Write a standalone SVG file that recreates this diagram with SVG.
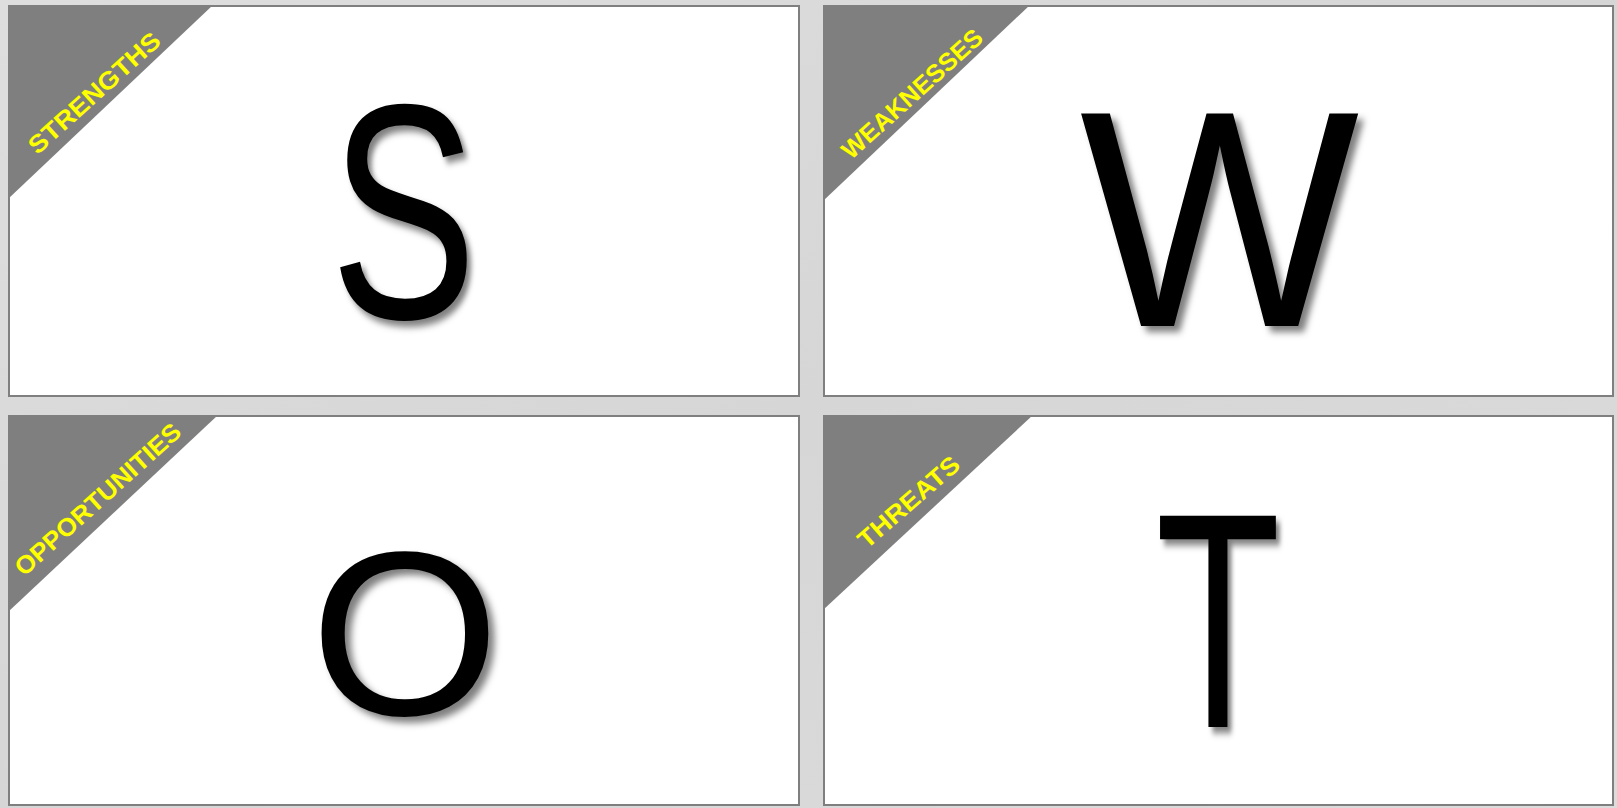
<svg xmlns="http://www.w3.org/2000/svg" width="1617" height="808" viewBox="0 0 1617 808">
  <defs>
    <filter id="shadow" x="-20%" y="-20%" width="150%" height="150%">
      <feDropShadow dx="6" dy="6" stdDeviation="3.5" flood-color="#000" flood-opacity="0.5"/>
    </filter>
    <linearGradient id="bg" x1="0" y1="0" x2="1" y2="1">
      <stop offset="0" stop-color="#dedede"/>
      <stop offset="0.5" stop-color="#d6d6d6"/>
      <stop offset="1" stop-color="#dcdcdc"/>
    </linearGradient>
  </defs>
  <style>
    .panel { fill: #ffffff; stroke: #7f7f7f; stroke-width: 2; }
    .corner { fill: #7f7f7f; }
    .label { font-family: "Liberation Sans", Arial, sans-serif; font-weight: bold; font-size: 25px; fill: #ffff00; text-anchor: middle; }
    .big { font-family: "Liberation Sans", Arial, sans-serif; font-weight: normal; fill: #000000; text-anchor: middle; filter: url(#shadow); }
  </style>
  <rect x="0" y="0" width="1617" height="808" fill="url(#bg)"/>

  <g id="strengths">
    <rect class="panel" x="9" y="6" width="790" height="390"/>
    <polygon class="corner" points="8,5 213,5 8,199"/>
    <text class="label" transform="translate(100,99.2) rotate(-42)" textLength="168" lengthAdjust="spacingAndGlyphs">STRENGTHS</text>
    <text class="big" font-size="307" transform="translate(403.5,0) scale(0.716,1) translate(-403.5,0)" x="403.5" y="318">S</text>
  </g>

  <g id="weaknesses">
    <rect class="panel" x="824" y="6" width="789" height="390"/>
    <polygon class="corner" points="823,5 1030,5 823,201"/>
    <text class="label" transform="translate(918,100.2) rotate(-42)" textLength="180" lengthAdjust="spacingAndGlyphs">WEAKNESSES</text>
    <text class="big" font-size="309" transform="translate(1219.5,0) scale(0.958,1) translate(-1219.5,0)" x="1219.5" y="326">W</text>
  </g>

  <g id="opportunities">
    <rect class="panel" x="9" y="416" width="790" height="389"/>
    <polygon class="corner" points="8,415 218,415 8,612"/>
    <text class="label" transform="translate(103.5,505.7) rotate(-42)" textLength="214" lengthAdjust="spacingAndGlyphs">OPPORTUNITIES</text>
    <text class="big" font-size="233" transform="translate(405,0) scale(1.048,1) translate(-405,0)" x="405" y="715">O</text>
  </g>

  <g id="threats">
    <rect class="panel" x="824" y="416" width="789" height="389"/>
    <polygon class="corner" points="823,415 1033,415 823,610"/>
    <text class="label" transform="translate(914.3,508.4) rotate(-41)" textLength="126" lengthAdjust="spacingAndGlyphs">THREATS</text>
    <text class="big" font-size="307" transform="translate(1218,0) scale(0.667,1) translate(-1218,0)" x="1218" y="727">T</text>
  </g>
</svg>
